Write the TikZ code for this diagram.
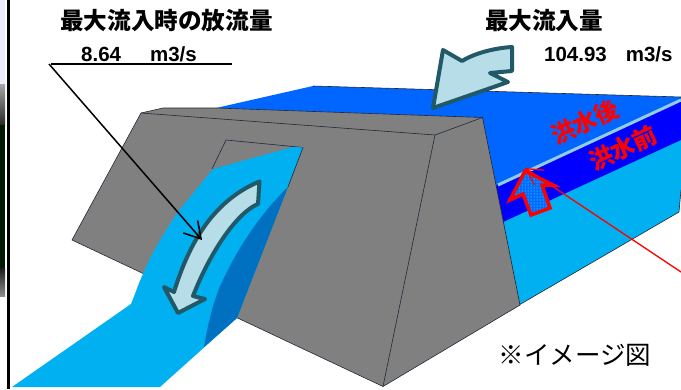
\documentclass[tikz,border=0pt]{standalone}
\usepackage{fontspec}
\usetikzlibrary{arrows.meta,patterns}
\setmainfont{Liberation Sans}
\newfontfamily\jpfont{Noto Sans CJK JP}
\definecolor{topblue}{HTML}{0066FF}
\definecolor{bandblue}{HTML}{0000FF}
\definecolor{waterblue}{HTML}{00B0F0}
\definecolor{deepblue}{HTML}{0070C0}
\definecolor{damgray}{HTML}{808080}
\definecolor{arrowfill}{HTML}{B7DDE8}
\definecolor{arrowline}{HTML}{215968}
\definecolor{levelline}{HTML}{92CDDC}
\definecolor{edgeline}{HTML}{1F2A38}
\tikzset{
  edge/.style={draw=edgeline,line width=0.6pt,line join=round},
  flowarrow/.style={draw=arrowline,fill=arrowfill,line width=4pt,line join=round},
  jphead/.style={font=\jpfont\bfseries\fontsize{23.6}{24}\selectfont,text=black,inner sep=0pt},
  valuetext/.style={font=\bfseries\fontsize{20.5}{22}\selectfont,text=black,inner sep=0pt,anchor=west},
  redlabel/.style={font=\jpfont\bfseries\fontsize{24}{26}\selectfont,text=red,inner sep=0pt,rotate=25},
  leader/.style={black,line width=1.5pt},
}
\begin{document}
\begin{tikzpicture}[x=1pt,y=-1pt]
\useasboundingbox (0,0) rectangle (681,389);
\fill[white] (0,0) rectangle (681,389);
% photo strip at the left edge
\shade[top color=black!25!blue!8!white,bottom color=black!25!blue!8!white] (0,0) rectangle (5,84);
\shade[top color=black!35,bottom color=black!85] (0,84) rectangle (5,125);
\fill[black!90!green] (0,125) rectangle (5,268);
\shade[top color=black!90,bottom color=black!45] (0,268) rectangle (5,296);
\fill[black] (7,0) rectangle (10,389);
% reservoir
\fill[topblue] (216,108) -- (313,86) -- (681,97) -- (681,105) -- (498,190) -- (470,130) -- cycle;
\draw[edge] (313,86) -- (681,97);
\fill[waterblue] (490,210) -- (681,135) -- (681,190) -- (679,212) -- (519,305) -- cycle;
\draw[edge] (681,190) -- (679,212) -- (519,305);
\fill[bandblue] (495,186) -- (681,100) -- (681,140) -- (503,222) -- cycle;
\draw[levelline,line width=3pt] (498,185) -- (681,100);
% dam
\filldraw[fill=damgray,edge] (141,113) -- (163,108) -- (216,108) -- (482.5,117.5) -- (520,305) -- (383,386.5) -- (72,240) -- cycle;
\draw[edge] (141,113) -- (435,135) -- (482.5,117.5);
\draw[edge] (435,135) -- (383,386.5);
% outlet
\draw[edge] (212,169) -- (226,140) -- (303,147.5);
% spillway
\fill[waterblue] (213,169) -- (293,147) -- (303,147.5) -- (237,318) -- (160,387) -- (12,387)
  -- (131,304) .. controls (136,292) and (139,282) .. (143,274)
  .. controls (153,250) and (165,232) .. (177,213) -- cycle;
\fill[deepblue] (288,187) -- (237,318) -- (204,347)
  .. controls (210,312) and (217,290) .. (227,272)
  .. controls (240,245) and (262,212) .. (288,187) -- cycle;
\draw[edge] (303,147.5) -- (288,187);
% flow arrows
\draw[flowarrow] (259.5,181.5) -- (258,204)
  .. controls (238,212) and (211,250) .. (193,296)
  -- (205,299) -- (178,313) -- (164,287) -- (174,292)
  .. controls (190,240) and (215,200) .. (259.5,181.5) -- cycle;
\draw[flowarrow] (433,108) -- (443,50) -- (462,61)
  .. controls (475,53) and (495,48) .. (512,47)
  -- (512,71) -- (490,73) -- (508,82) -- cycle;
% red level arrow
\fill[blue!15!cyan!50!blue] (525,171) -- (510,200) -- (523,194) -- (531,215) -- (550,208) -- (542,185) -- (553,185) -- cycle;
\fill[pattern=dots,pattern color=cyan!60!white] (525,171) -- (510,200) -- (523,194) -- (531,215) -- (550,208) -- (542,185) -- (553,185) -- cycle;
\draw[red,line width=3.5pt,line join=miter] (525,171) -- (510,200) -- (523,194) -- (531,215) -- (550,208) -- (542,185) -- (553,185) -- cycle;
% leader lines
\coordinate (redstart) at (681,272);
\coordinate (redtip) at (525,168);
\coordinate (blackstart) at (49,64);
\coordinate (blacktip) at (202,240);
\coordinate (ruleend) at (232,64);
\draw[red,line width=1.3pt,-{Straight Barb[length=16pt,width=18pt]}] (redstart) -- (redtip);
\draw[leader,-{Straight Barb[length=16pt,width=19pt]}] (blackstart) -- (blacktip);
\draw[leader] (blackstart) ++(2,0) -- (ruleend);
% texts
\node[jphead] (outhead) at (166.5,21) {最大流入時の放流量};
\node[valuetext] (outval) at (81,54) {8.64\hspace{29pt}m3/s};
\node[jphead] (inhead) at (544,21) {最大流入量};
\node[valuetext] (inval) at (544,54) {104.93\hspace{19pt}m3/s};
\node[redlabel] (after) at (585,122) {洪水後};
\node[redlabel] (before) at (623,148) {洪水前};
\node[font=\jpfont\fontsize{25.5}{27}\selectfont,inner sep=0pt] (note) at (575,355) {※イメージ図};
\end{tikzpicture}
\end{document}
